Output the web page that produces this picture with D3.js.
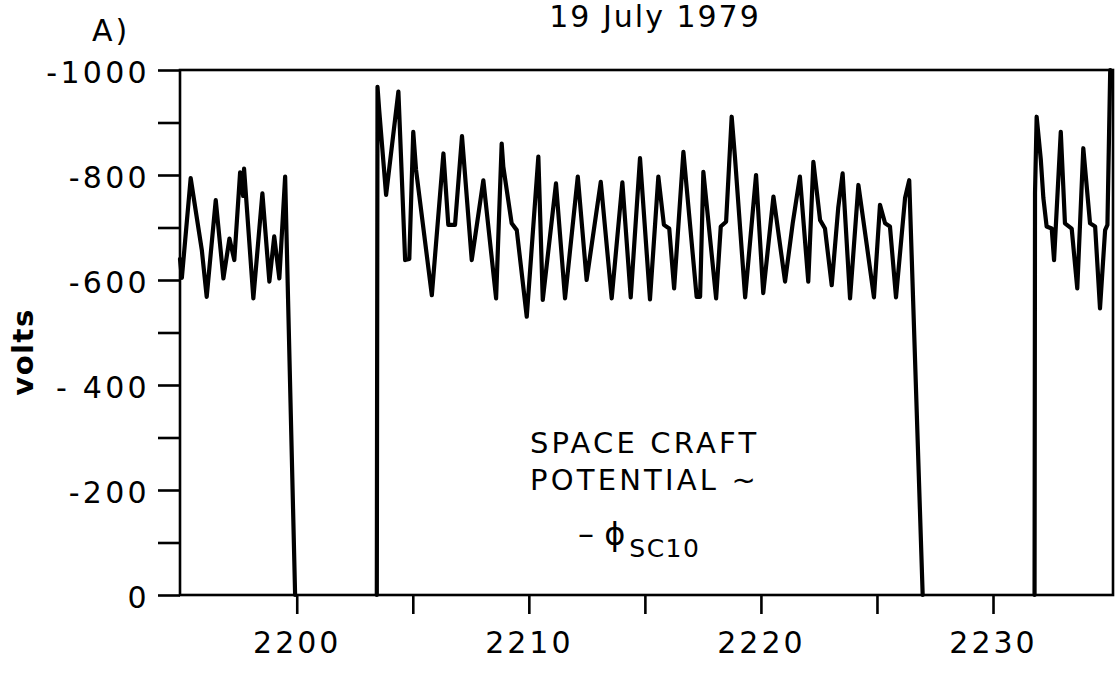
<!DOCTYPE html>
<html>
<head>
<meta charset="utf-8">
<script src="https://cdn.jsdelivr.net/npm/d3@7"></script>
<style>
  html, body { margin: 0; padding: 0; background: #fff; }
  svg text { font-family: "DejaVu Sans", sans-serif; fill: #000; }
</style>
</head>
<body>
<svg id="chart" width="1118" height="676"></svg>
<script>
// ---- data ----
const seg1Time = [2194.97, 2195.05, 2195.43, 2195.91, 2196.12, 2196.51, 2196.84, 2197.10, 2197.31, 2197.56, 2197.69, 2197.73, 2198.13, 2198.52, 2198.82, 2199.03, 2199.25, 2199.50, 2199.93];
const seg1Volts = [-640, -604, -794, -657, -568, -752, -603, -679, -638, -805, -760, -812, -565, -765, -597, -683, -603, -797, 0];

const seg2Time = [2203.45, 2203.48, 2203.55, 2203.85, 2204.38, 2204.67, 2204.85, 2205.02, 2205.14, 2205.82, 2206.32, 2206.53, 2206.82, 2207.12, 2207.54, 2208.04, 2208.59, 2208.83, 2208.90, 2209.26, 2209.48, 2209.91, 2210.41, 2210.60, 2211.17, 2211.56, 2212.11, 2212.49, 2213.10, 2213.57, 2214.03, 2214.39, 2214.79, 2215.22, 2215.58, 2215.82, 2216.05, 2216.26, 2216.66, 2217.23, 2217.38, 2217.52, 2218.07, 2218.27, 2218.50, 2218.74, 2218.88, 2219.32, 2219.79, 2220.10, 2220.54, 2221.04, 2221.37, 2221.68, 2222.04, 2222.26, 2222.55, 2222.76, 2223.05, 2223.33, 2223.52, 2223.84, 2224.20, 2224.56, 2224.87, 2225.13, 2225.35, 2225.56, 2225.82, 2226.21, 2226.39, 2226.97];
const seg2Volts = [0, -968, -925, -762, -959, -638, -640, -882, -810, -571, -841, -705, -705, -874, -638, -790, -565, -860, -816, -708, -695, -530, -835, -562, -784, -565, -797, -600, -787, -565, -786, -567, -832, -563, -797, -705, -698, -584, -844, -568, -568, -806, -565, -702, -711, -911, -835, -567, -800, -575, -759, -597, -708, -797, -597, -825, -714, -698, -590, -737, -803, -565, -781, -667, -567, -743, -708, -702, -567, -756, -790, 0];

const seg3Time = [2231.79, 2231.81, 2231.88, 2232.06, 2232.17, 2232.31, 2232.53, 2232.63, 2232.92, 2233.10, 2233.39, 2233.63, 2233.89, 2234.18, 2234.40, 2234.61, 2234.83, 2234.93, 2235.05];
const seg3Volts = [0, -766, -911, -829, -756, -702, -698, -638, -882, -708, -698, -584, -851, -708, -702, -546, -695, -705, -1000];

const xTicks = [2200, 2205, 2210, 2215, 2220, 2225, 2230];
const xTickLabels = ["2200", "", "2210", "", "2220", "", "2230"];
const yTicks = [-1000, -900, -800, -700, -600, -500, -400, -300, -200, -100, 0];
const yTickLabels = ["-1000", "", "-800", "", "-600", "", "- 400", "", "-200", "", "0"];

const titleText = "19 July 1979";
const panelText = "A)";
const yAxisTitle = "volts";
const noteLines = ["SPACE CRAFT", "POTENTIAL ~"];

// ---- layout ----
const plotLeft = 180, plotRight = 1113, plotTop = 70, plotBottom = 595;
const svg = d3.select("#chart");

const x = d3.scaleLinear().domain([2194.97, 2235.17]).range([plotLeft, plotRight]);
const y = d3.scaleLinear().domain([0, -1000]).range([plotBottom, plotTop]);

// frame
svg.append("rect")
  .attr("x", plotLeft).attr("y", plotTop)
  .attr("width", plotRight - plotLeft).attr("height", plotBottom - plotTop)
  .attr("fill", "none").attr("stroke", "#000").attr("stroke-width", 2.6);

// y axis
const yAxis = svg.append("g")
  .attr("transform", `translate(${plotLeft},0)`)
  .call(d3.axisLeft(y).tickValues(yTicks).tickSize(22).tickPadding(8)
    .tickFormat((d, i) => yTickLabels[i]));
yAxis.select(".domain").remove();
yAxis.selectAll(".tick line").attr("stroke", "#000").attr("stroke-width", 2.6);
yAxis.selectAll(".tick text")
  .attr("font-size", 30).attr("letter-spacing", 3.3)
  .attr("dy", "0.42em").attr("font-family", "DejaVu Sans");

// x axis
const xAxis = svg.append("g")
  .attr("transform", `translate(0,${plotBottom})`)
  .call(d3.axisBottom(x).tickValues(xTicks).tickSize(19).tickPadding(18)
    .tickFormat((d, i) => xTickLabels[i]));
xAxis.select(".domain").remove();
xAxis.selectAll(".tick line").attr("stroke", "#000").attr("stroke-width", 2.6);
xAxis.selectAll(".tick text")
  .attr("font-size", 30).attr("letter-spacing", 3)
  .attr("font-family", "DejaVu Sans");

// data line
const line = d3.line().x(d => x(d[0])).y(d => y(d[1]));
const segments = [
  d3.zip(seg1Time, seg1Volts),
  d3.zip(seg2Time, seg2Volts),
  d3.zip(seg3Time, seg3Volts)
];
svg.append("g").selectAll("path").data(segments).join("path")
  .attr("d", line)
  .attr("fill", "none").attr("stroke", "#000")
  .attr("stroke-width", 4.2).attr("stroke-linejoin", "round").attr("stroke-linecap", "round");

// texts
svg.append("text").attr("x", 655).attr("y", 27)
  .attr("text-anchor", "middle").attr("font-size", 30).attr("letter-spacing", 2)
  .text(titleText);
svg.append("text").attr("x", 92).attr("y", 41)
  .attr("font-size", 30).attr("letter-spacing", 3)
  .text(panelText);
svg.append("text")
  .attr("transform", "translate(33,352) rotate(-90)")
  .attr("text-anchor", "middle").attr("font-size", 29).attr("letter-spacing", 1.5)
  .attr("font-weight", "bold")
  .text(yAxisTitle);

const note = svg.append("g");
note.selectAll("text.note").data(noteLines).join("text")
  .attr("class", "note")
  .attr("x", 530).attr("y", (d, i) => 453 + i * 37)
  .attr("font-size", 29).attr("letter-spacing", 3.2)
  .text(d => d);
const phi = note.append("text").attr("x", 578).attr("y", 545).attr("font-size", 32);
phi.append("tspan").text("– ϕ");
phi.append("tspan").attr("dy", 12).attr("dx", 4).attr("font-size", 25).attr("letter-spacing", 1.5).text("SC10");
</script>
</body>
</html>
